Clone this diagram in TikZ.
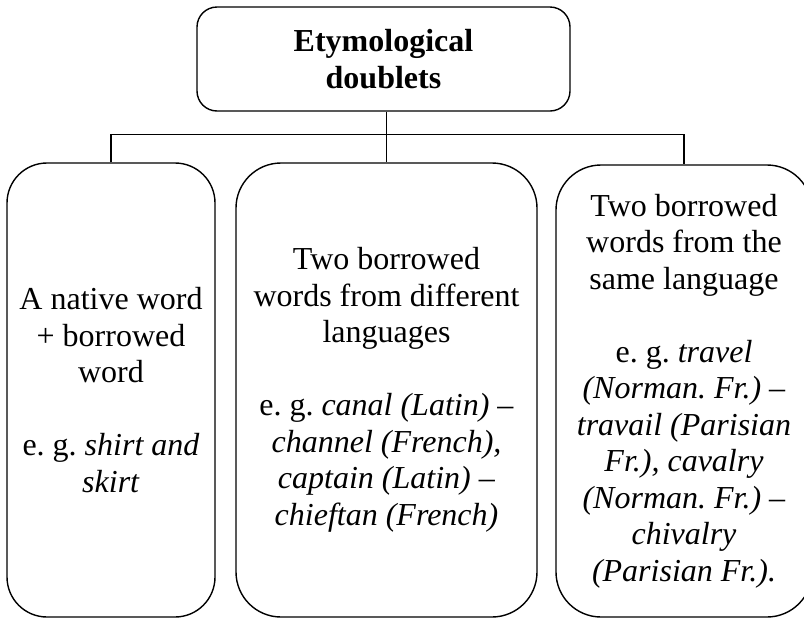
\documentclass[tikz,border=0pt]{standalone}
\usepackage{fontspec}
\setmainfont{Liberation Serif}
\frenchspacing
\begin{document}
\begin{tikzpicture}[x=1pt,y=-1pt,
  box/.style={draw, line width=1.4pt, align=center, inner sep=0pt,
    font=\fontsize{32}{36.5}\selectfont\frenchspacing},
  link/.style={draw, line width=1.4pt}]
\useasboundingbox (0,0) rectangle (804,619);
\clip (0,0) rectangle (804,619);

% root
\node[box, rounded corners=20pt, minimum width=373pt, minimum height=104pt]
  (root) at (383.5,59) {\bfseries Etymological\\\bfseries doublets};

% three kinds of doublets
\node[box, rounded corners=40pt, minimum width=208pt, minimum height=454pt]
  (native) at (111,390)
  {A native word\\+ borrowed\\word\\[36.5pt]e. g. \textit{shirt and}\\\textit{skirt}};

\node[box, rounded corners=45pt, minimum width=301pt, minimum height=454pt]
  (diff) at (386.5,390)
  {Two borrowed\\words from different\\languages\\[36.5pt]
   e. g. \textit{canal (Latin) –}\\\textit{channel (French),}\\
   \textit{captain (Latin) –}\\\textit{chieftan (French)}};

\node[box, rounded corners=45pt, minimum width=256pt, minimum height=452pt]
  (same) at (684,391)
  {Two borrowed\\words from the\\same language\\[36.5pt]
   e. g. \textit{travel}\\\textit{(Norman. Fr.) –}\\\textit{travail (Parisian}\\
   \textit{Fr.), cavalry}\\\textit{(Norman. Fr.) –}\\\textit{chivalry}\\
   \textit{(Parisian Fr.).}};

% connectors
\draw[link] (root.south -| diff.north) -- (diff.north);
\draw[link] (native.north) -- ++(0,-28) -| (same.north);
\end{tikzpicture}
\end{document}
